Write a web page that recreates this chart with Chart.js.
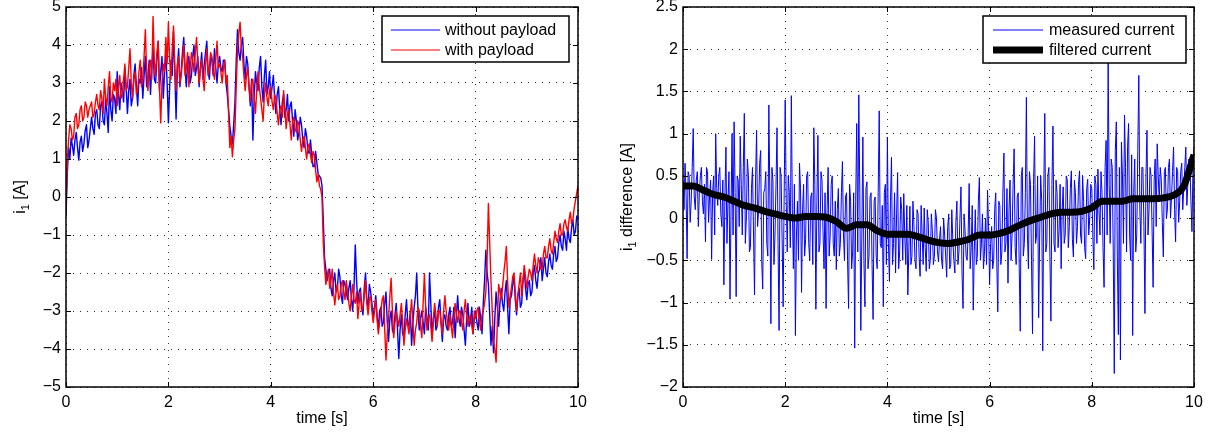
<!DOCTYPE html>
<html>
<head>
<meta charset="utf-8">
<script src="https://cdn.jsdelivr.net/npm/chart.js@4.4.1/dist/chart.umd.min.js"></script>
<style>
  html, body { margin: 0; padding: 0; background: #fff; }
  #wrap { position: relative; width: 1212px; height: 437px; overflow: hidden; }
  canvas { position: absolute; top: 0; }
  #left { left: 0; }
  #right { left: 606px; }
</style>
</head>
<body>
<div id="wrap">
  <canvas id="left" width="606" height="437"></canvas>
  <canvas id="right" width="606" height="437"></canvas>
</div>
<script>
// sample spacing of the recorded signals [s]
const dtMotor = 0.025;
const dtDiff = 0.02;
const dtFilt = 0.2;

// motor current i1 [A], 0..10 s, one row per 0.5 s
const withoutPayload = [
  -0.5, 0.6, 1.3, 1.0, 1.55, 1.35, 1.1, 1.5, 1.7, 1.3, 0.97, 1.45, 1.6, 1.2, 1.4, 1.75, 1.9, 1.3, 1.5, 1.8,
  2.1, 1.8, 1.65, 2.2, 2.3, 1.9, 1.8, 2.4, 2.5, 2.0, 1.9, 2.6, 2.2, 1.7, 2.9, 2.3, 2.0, 2.7, 2.6, 2.2,
  3.3, 2.7, 2.3, 3.0, 2.8, 2.5, 3.4, 2.9, 2.2, 2.8, 3.1, 2.4, 2.6, 3.2, 3.5, 2.9, 2.4, 3.1, 3.0, 3.4,
  2.6, 3.2, 3.7, 2.9, 3.2, 3.6, 2.7, 3.4, 3.9, 3.1, 3.0, 3.6, 4.1, 2.8, 3.3, 3.7, 2.6, 3.3, 3.8, 3.0,
  1.95, 2.9, 3.6, 3.2, 4.35, 3.3, 2.05, 3.4, 3.9, 2.9, 3.3, 3.8, 4.2, 3.4, 2.9, 3.5, 3.7, 3.0, 3.2, 3.7,
  4.0, 3.2, 3.4, 3.7, 2.9, 3.4, 3.8, 3.1, 3.5, 3.8, 4.1, 3.3, 3.1, 3.7, 3.6, 3.2, 3.9, 3.4, 3.0, 3.5,
  3.7, 3.4, 3.3, 3.6, 3.6, 3.0, 2.7, 2.3, 1.85, 1.6, 1.4, 1.9, 2.5, 3.6, 4.4, 3.8, 3.6, 4.0, 4.2, 3.5,
  3.1, 3.7, 3.5, 2.9, 2.4, 3.1, 1.5, 2.6, 3.3, 3.0, 2.8, 3.4, 3.7, 2.9, 2.5, 3.2, 3.6, 2.7, 2.9, 3.3,
  2.6, 2.9, 3.2, 2.6, 2.2, 2.7, 2.9, 2.3, 1.9, 2.5, 2.7, 2.1, 2.3, 2.7, 2.0, 2.4, 2.5, 2.0, 1.6, 2.3,
  2.0, 1.5, 1.7, 2.1, 1.9, 1.5, 1.3, 1.8, 1.6, 1.2, 1.15, 1.5, 1.1, 0.8, 0.8, 1.2, 0.9, 0.6, 0.55, 0.5,
  0.3, -0.6, -1.6, -1.9, -2.2, -2.0, -1.9, -2.4, -2.6, -2.2, -2.0, -2.5, -2.4, -1.9, -2.1, -2.6, -2.8, -2.2, -2.3, -2.5,
  -2.7, -2.4, -2.2, -2.7, -3.0, -2.4, -1.26, -2.2, -2.8, -2.5, -2.4, -2.9, -3.1, -2.4, -2.0, -2.7, -2.9, -2.3, -2.5, -2.8,
  -3.2, -2.9, -2.6, -3.1, -3.5, -3.0, -2.9, -3.4, -3.3, -2.8, -2.5, -3.3, -3.8, -3.2, -3.0, -3.5, -3.6, -3.1, -2.8, -3.5,
  -4.25, -3.5, -3.1, -3.6, -3.7, -3.1, -2.7, -3.3, -3.4, -3.0, -3.9, -3.3, -2.9, -2.6, -2.0, -3.0, -3.5, -3.2, -3.0, -3.3,
  -3.6, -2.9, -3.2, -3.5, -2.0, -2.8, -3.7, -3.2, -3.0, -3.5, -3.4, -2.9, -2.7, -3.3, -3.8, -3.2, -3.1, -3.4, -3.5, -3.1,
  -2.9, -3.4, -3.3, -2.9, -3.7, -3.1, -2.6, -3.2, -3.4, -2.9, -3.1, -3.5, -3.9, -3.2, -2.8, -3.4, -3.3, -2.9, -3.6, -3.2,
  -3.0, -3.3, -3.5, -2.9, -3.2, -3.6, -2.8, -2.2, -1.4, -2.0, -2.3, -3.1, -3.9, -3.4, -4.1, -3.2, -2.5, -2.9, -3.4, -2.8,
  -2.4, -2.8, -3.0, -2.5, -2.2, -2.9, -3.6, -2.7, -2.6, -2.3, -2.1, -2.7, -3.1, -2.6, -2.4, -2.9, -2.8, -2.2, -1.9, -2.4,
  -2.7, -2.3, -2.2, -2.6, -2.5, -2.0, -1.8, -2.2, -2.4, -2.0, -1.9, -1.6, -2.2, -1.9, -1.6, -2.0, -2.1, -1.7, -1.5, -1.8,
  -1.9, -1.5, -1.3, -1.7, -1.6, -1.2, -1.0, -1.3, -1.4, -0.9, -1.1, -1.4, -0.8, -1.1, -1.2, -0.8, -0.6, -1.0, -0.9, -0.5,
  -0.6
];
const withPayload = [
  -0.25, 0.9, 1.5, 1.9, 1.8, 1.5, 1.6, 2.1, 2.2, 1.8, 1.9, 2.3, 2.4, 2.0, 2.1, 2.5, 2.4, 2.1, 2.3, 2.4,
  2.5, 2.1, 2.2, 2.5, 2.7, 2.4, 2.3, 2.8, 2.6, 2.2, 3.1, 2.6, 2.4, 2.9, 3.3, 2.6, 2.5, 3.0, 2.8, 3.1,
  2.4, 2.9, 3.2, 2.6, 2.7, 3.1, 3.5, 2.8, 2.9, 3.4, 3.9, 3.0, 2.6, 3.1, 3.3, 2.7, 2.8, 3.3, 3.6, 2.9,
  3.1, 3.7, 4.4, 3.3, 2.8, 3.4, 3.6, 3.1, 4.75, 3.6, 3.2, 3.8, 4.1, 2.9, 1.95, 3.0, 3.5, 3.3, 4.2, 3.5,
  4.6, 3.6, 3.1, 3.9, 4.5, 3.4, 2.8, 3.5, 3.7, 3.0, 3.2, 3.6, 4.0, 3.2, 3.4, 3.8, 2.9, 3.4, 3.8, 3.6,
  3.3, 3.8, 4.2, 3.5, 3.0, 3.4, 3.6, 3.1, 2.8, 3.5, 3.9, 3.2, 3.4, 3.8, 3.7, 3.3, 3.1, 3.6, 4.1, 3.4,
  3.5, 3.3, 3.0, 3.4, 3.6, 3.0, 3.2, 2.2, 1.3, 1.6, 1.06, 1.5, 1.8, 2.9, 3.9, 4.3, 4.6, 3.9, 3.7, 3.2,
  2.8, 3.2, 3.4, 2.9, 2.5, 3.0, 3.1, 2.6, 2.2, 2.8, 3.3, 2.9, 2.6, 2.3, 2.0, 2.7, 3.0, 2.6, 2.4, 2.8,
  2.9, 2.5, 2.3, 2.7, 2.6, 2.2, 1.9, 2.3, 2.4, 2.1, 2.8, 2.3, 1.8, 2.2, 2.3, 1.9, 1.5, 2.0, 2.1, 1.8,
  1.7, 2.0, 1.9, 1.5, 1.2, 1.5, 1.6, 1.3, 1.0, 1.3, 1.4, 1.1, 0.9, 1.2, 1.1, 0.7, 0.4, 0.6, 0.3, 0.2,
  0.0, -1.2, -1.83, -2.3, -2.1, -1.9, -2.4, -2.2, -1.9, -2.5, -2.84, -2.5, -2.3, -2.7, -2.6, -2.3, -2.2, -2.5, -2.7, -2.2,
  -2.5, -2.8, -3.0, -2.6, -2.3, -2.7, -2.8, -2.5, -3.2, -2.8, -2.5, -3.0, -2.9, -2.6, -2.2, -2.8, -3.1, -2.7, -2.6, -3.0,
  -3.3, -3.0, -2.7, -3.2, -3.6, -3.3, -3.0, -2.7, -2.6, -3.5, -4.29, -3.6, -3.2, -2.6, -2.14, -3.0, -3.7, -3.3, -3.0, -3.2,
  -3.4, -3.1, -2.8, -3.3, -3.9, -3.5, -3.2, -3.4, -3.6, -3.1, -2.7, -3.3, -3.9, -3.5, -3.3, -2.9, -3.0, -3.4, -3.7, -2.8,
  -2.02, -2.9, -3.5, -3.2, -3.1, -3.4, -3.8, -3.2, -2.8, -3.1, -3.4, -3.0, -3.0, -3.3, -3.6, -3.0, -2.6, -3.0, -3.3, -3.5,
  -3.1, -3.4, -3.7, -3.2, -2.8, -3.1, -3.3, -3.0, -3.0, -3.3, -3.5, -3.0, -2.7, -3.1, -3.4, -3.2, -3.1, -3.4, -3.6, -3.0,
  -3.2, -3.0, -2.9, -3.3, -3.5, -3.1, -3.0, -2.8, -2.5, -1.6, -0.17, -1.2, -2.2, -3.0, -3.8, -4.0, -4.35, -3.3, -2.3, -2.5,
  -2.7, -2.4, -2.0, -1.7, -1.3, -2.2, -2.9, -2.6, -2.4, -2.1, -2.0, -2.5, -3.0, -2.6, -2.3, -2.0, -2.6, -2.2, -1.8, -2.1,
  -2.4, -2.1, -1.9, -2.0, -2.2, -1.8, -1.5, -1.8, -2.0, -1.6, -1.7, -1.9, -1.9, -1.5, -1.3, -1.6, -1.6, -1.3, -1.1, -1.4,
  -1.5, -1.2, -0.9, -1.1, -1.2, -0.9, -0.7, -1.0, -1.0, -0.7, -0.6, -0.8, -0.9, -0.6, -0.4, -0.7, -0.6, -0.3, -0.1, 0.1,
  0.3
];

// difference of i1 between the two runs [A], one row per second
const measuredDiff = [
  0.45, 0.1, 0.65, 0.3, -0.48, 0.55, 0.5, -0.05, 0.2, 0.6, 1.06, 0.25, 0.1, 0.45, 0.55, -0.1, 0.3, 0.5, 0.6, 0.2, 0.05, 0.4, -0.28, 0.6, 0.55,
  -0.05, 0.25, 0.45, -0.49, 0.3, 0.5, -0.2, 1.0, 0.35, 0.15, 0.5, 0.6, 0.05, -0.1, 0.45, -0.79, 0.25, 0.84, -0.3, 0.2, 0.55, -0.96, 0.1, 1.0, -0.2,
  1.14, 0.3, -0.93, 0.5, 0.45, -0.1, 0.97, 0.4, -0.2, 0.6, 1.24, -0.3, 0.0, 0.7, 0.5, -0.4, -0.35, 0.35, 0.6, -0.2, -0.91, 0.45, 1.04, -0.1, 0.1,
  0.65, 0.8, -0.5, -0.84, 0.3, 0.35, 0.55, -0.3, -0.45, 1.34, 0.25, -1.25, 0.6, 0.45, -0.55, -0.2, 0.4, 1.07, -0.3, -1.33, 0.6, 0.5, -0.25, -1.05, 0.3,
  1.4, 0.2, -0.4, 0.5, 0.3, -0.35, 1.45, 0.1, -0.6, 0.4, -1.39, -0.2, 0.2, -0.5, 0.65, 0.35, -0.88, 0.1, 0.4, -0.45, -0.25, 0.5, 0.55, -0.3, -0.5,
  0.25, 0.3, -0.55, 1.07, 0.4, -1.08, 0.2, 0.98, -0.4, -0.3, 0.55, 0.45, -0.15, -0.6, 0.3, -1.07, 0.1, 0.6, -0.45, -0.2, 0.4, 0.5, -0.3, -0.45, 0.2,
  -0.61, 0.1, 0.35, -0.45, -0.3, 0.3, 0.67, -0.2, -0.5, 0.25, 0.3, -0.5, -1.07, 0.4, 0.2, -0.6, -0.4, 0.3, -1.54, 0.2, 1.12, -0.4, 1.46, 0.3, -1.33,
  -0.2, 0.96, -0.5, -1.05, 0.35, 0.43, -0.6, -0.45, 0.25, 0.3, -0.55, -1.2, 0.2, 0.25, -0.45, -0.6, 0.3, 1.27, -0.3, -0.35, 0.15, -1.05, 0.3, 0.4, -0.55,
  0.96, -0.3, -0.75, 0.2, 0.72, -0.55, -0.3, 0.3, -0.65, 0.05, 0.54, -0.6, -0.4, 0.25, 0.1, -0.5, 0.29, -0.2, -0.55, 0.15, -0.91, -0.35, 0.14, -0.55, -0.45,
  0.2, -0.1, -0.5, -0.6, 0.1, 0.05, -0.45, -0.69, 0.15, -0.2, -0.55, 0.12, -0.35, -0.63, 0.1, -0.05, -0.6, -0.5, 0.05, -0.15, -0.55, -0.45, 0.1, 0.0, -0.4,
  -0.52, -0.25, -0.1, -0.5, -0.6, 0.0, -0.2, -0.45, -0.7, -0.1, 0.05, -0.6, -0.55, 0.1, -0.25, -0.5, -0.65, -0.05, 0.2, -0.55, -0.4, 0.0, 0.37, -0.65, -1.07,
  0.05, -0.15, -0.45, -0.5, -0.2, 0.41, -0.6, -0.35, 0.15, -1.09, -0.4, 0.1, -0.55, -0.45, 0.2, 0.48, -0.5, -0.3, 0.05, -0.6, -0.4, 0.0, -0.55, 0.33, -0.1,
  -0.79, -0.3, -0.1, -0.6, -0.5, 0.1, 0.3, -0.5, -1.11, 0.2, 0.15, -0.55, -0.4, 0.3, 0.77, -0.4, -0.3, 0.35, -0.77, 0.1, 0.45, -0.5, -0.2, 0.4, 0.82,
  -0.35, -0.55, 0.25, 0.3, -0.6, -1.34, 0.5, 0.6, -0.45, -0.3, 0.3, 1.43, -0.2, -0.6, 0.55, 0.4, -0.5, -1.37, 0.4, 0.97, -0.3, -0.2, 0.5, -1.18, -0.2,
  0.5, 0.2, -1.57, 0.35, 1.24, -0.4, -0.3, 0.5, 0.6, -0.45, -1.22, 0.4, 1.09, -0.3, -0.4, 0.45, 0.3, -0.35, -0.15, 0.4, -0.6, 0.1, 0.37, -0.3, -0.2,
  0.5, 0.45, -0.35, -0.1, 0.35, 0.56, -0.25, -0.46, 0.45, 0.3, -0.3, -0.1, 0.4, 0.56, -0.2, -0.3, 0.5, 0.2, -0.35, -0.48, 0.35, 0.46, -0.2, 0.0, 0.4,
  0.35, -0.2, -0.61, 0.5, 0.4, -0.3, 0.58, 0.1, -0.2, 0.55, 0.3, -0.35, -0.82, 0.6, 0.92, -0.2, 1.84, 0.4, -0.3, 0.7, 0.6, -0.4, -1.84, 0.8, 1.14,
  -0.5, -1.38, 0.6, -1.68, 0.9, 0.5, -0.3, 1.22, 0.6, -0.4, 0.85, 1.12, -0.2, -0.5, 0.75, -1.39, 0.3, 0.7, -0.4, -0.2, 0.8, 1.69, 0.1, -0.3, 0.6,
  0.6, -0.1, -1.13, 0.5, 1.04, -0.2, 0.1, 0.6, 0.5, -0.15, -0.82, 0.45, 0.7, -0.1, 0.88, 0.5, 0.2, 0.6, 0.45, -0.05, -0.46, 0.55, 0.6, 0.0, 0.1,
  0.6, 0.7, 0.0, 0.25, 0.55, 0.84, 0.1, -0.28, 0.6, 0.55, -0.05, 0.2, 0.55, 0.65, 0.1, 0.35, 0.6, 0.84, 0.15, 0.4, 0.7, 0.65, 0.2, -0.16, 0.6,
  0.84
];
const filteredDiff = [
  0.38, 0.38, 0.33, 0.28, 0.25, 0.2, 0.15, 0.12, 0.08, 0.05,
  0.02, 0.0, 0.02, 0.02, 0.01, -0.04, -0.12, -0.08, -0.08, -0.15,
  -0.19, -0.19, -0.19, -0.22, -0.26, -0.29, -0.3, -0.28, -0.25, -0.2,
  -0.2, -0.18, -0.14, -0.08, -0.03, 0.01, 0.05, 0.07, 0.07, 0.08,
  0.12, 0.2, 0.2, 0.2, 0.23, 0.23, 0.23, 0.24, 0.27, 0.38,
  0.75
];

const timeTicks = [0, 2, 4, 6, 8, 10];

function series(values, dt) {
  return values.map((v, i) => ({ x: +(i * dt).toFixed(3), y: v }));
}

function tickText(v) {
  return String(Math.round(v * 10) / 10).replace('-', '\u2212');
}

Chart.defaults.font.family = '"Liberation Sans", Arial, Helvetica, sans-serif';
Chart.defaults.font.size = 16;
Chart.defaults.color = '#000';

// MATLAB-like box, inner tick marks, axis labels and legend
const matlabAxes = {
  id: 'matlabAxes',
  afterDatasetsDraw(chart, args, opts) {
    const { ctx, chartArea: a, scales } = chart;
    const fam = Chart.defaults.font.family;
    ctx.save();

    ctx.strokeStyle = '#000';
    ctx.lineWidth = 1;
    ctx.beginPath();
    scales.x.ticks.forEach(t => {
      const px = Math.round(scales.x.getPixelForValue(t.value)) + 0.5;
      ctx.moveTo(px, a.bottom); ctx.lineTo(px, a.bottom - 5);
      ctx.moveTo(px, a.top); ctx.lineTo(px, a.top + 5);
    });
    scales.y.ticks.forEach(t => {
      const py = Math.round(scales.y.getPixelForValue(t.value)) + 0.5;
      ctx.moveTo(a.left, py); ctx.lineTo(a.left + 5, py);
      ctx.moveTo(a.right, py); ctx.lineTo(a.right - 5, py);
    });
    ctx.stroke();
    ctx.lineWidth = 1.5;
    ctx.strokeRect(a.left, a.top, a.right - a.left, a.bottom - a.top);

    // x label
    ctx.fillStyle = '#000';
    ctx.font = '16px ' + fam;
    ctx.textAlign = 'center';
    ctx.textBaseline = 'middle';
    ctx.fillText('time [s]', (a.left + a.right) / 2, 419);

    // y label with subscript, rotated
    const parts = opts.yTitle;
    ctx.save();
    ctx.translate(opts.yTitleX, (a.top + a.bottom) / 2);
    ctx.rotate(-Math.PI / 2);
    ctx.textAlign = 'left';
    ctx.textBaseline = 'middle';
    let total = 0;
    parts.forEach(p => {
      ctx.font = (p.sub ? '11px ' : '16px ') + fam;
      p.w = ctx.measureText(p.t).width;
      total += p.w;
    });
    let cx = -total / 2;
    parts.forEach(p => {
      ctx.font = (p.sub ? '11px ' : '16px ') + fam;
      ctx.fillText(p.t, cx, p.sub ? 5 : 0);
      cx += p.w;
    });
    ctx.restore();

    // legend
    const L = opts.legend;
    ctx.fillStyle = '#fff';
    ctx.fillRect(L.x, L.y, L.w, L.h);
    ctx.lineWidth = 1.5;
    ctx.strokeStyle = '#000';
    ctx.strokeRect(L.x, L.y, L.w, L.h);
    ctx.font = '16px ' + fam;
    ctx.textAlign = 'left';
    ctx.textBaseline = 'middle';
    const items = chart.data.datasets.slice().sort((p, q) => p.legendRank - q.legendRank);
    items.forEach((ds, i) => {
      const yy = L.y + L.rows[i];
      ctx.strokeStyle = ds.borderColor;
      ctx.lineWidth = ds.legendWidth;
      ctx.beginPath();
      ctx.moveTo(L.x + L.line[0], yy);
      ctx.lineTo(L.x + L.line[1], yy);
      ctx.stroke();
      ctx.fillStyle = '#000';
      ctx.fillText(ds.label, L.x + L.textX, yy + 1);
    });

    ctx.restore();
  }
};

function panel(id, area, yRange, datasets, extras) {
  return new Chart(document.getElementById(id), {
    type: 'line',
    data: { datasets },
    options: {
      responsive: false,
      animation: false,
      devicePixelRatio: 1,
      events: [],
      layout: { padding: { top: area.top, right: 606 - area.right, left: 0, bottom: 0 } },
      elements: { point: { radius: 0 }, line: { tension: 0, borderJoinStyle: 'round' } },
      plugins: {
        legend: { display: false },
        tooltip: { enabled: false },
        matlabAxes: extras
      },
      scales: {
        x: {
          type: 'linear', min: 0, max: 10,
          afterBuildTicks: s => { s.ticks = timeTicks.map(v => ({ value: v })); },
          ticks: { padding: 6, maxRotation: 0, callback: v => tickText(v) },
          grid: { drawTicks: false, color: '#333', lineWidth: 1 },
          border: { display: false, dash: [1, 6] },
          afterFit: s => { s.height = 437 - area.bottom; s.paddingLeft = 0; s.paddingRight = 0; }
        },
        y: {
          min: yRange[0], max: yRange[1],
          afterBuildTicks: s => { s.ticks = yRange[2].map(v => ({ value: v })); },
          ticks: { padding: 5, callback: v => tickText(v) },
          grid: { drawTicks: false, color: '#333', lineWidth: 1 },
          border: { display: false, dash: [1, 6] },
          afterFit: s => { s.width = area.left; s.paddingTop = 0; s.paddingBottom = 0; }
        }
      }
    },
    plugins: [matlabAxes]
  });
}

panel('left', { left: 66, right: 578, top: 7, bottom: 387 },
  [-5, 5, [-5, -4, -3, -2, -1, 0, 1, 2, 3, 4, 5]],
  [
    { label: 'with payload', data: series(withPayload, dtMotor), borderColor: '#ff0000',
      borderWidth: 1.4, order: 0, legendRank: 1, legendWidth: 1 },
    { label: 'without payload', data: series(withoutPayload, dtMotor), borderColor: '#0000ff',
      borderWidth: 1.4, order: 1, legendRank: 0, legendWidth: 1 }
  ],
  {
    yTitle: [{ t: 'i' }, { t: '1', sub: true }, { t: ' [A]' }], yTitleX: 21,
    legend: { x: 382, y: 16, w: 187, h: 46, rows: [14, 34], line: [9, 58], textX: 63 }
  });

panel('right', { left: 77, right: 588, top: 7, bottom: 387 },
  [-2, 2.5, [-2, -1.5, -1, -0.5, 0, 0.5, 1, 1.5, 2, 2.5]],
  [
    { label: 'filtered current', data: series(filteredDiff, dtFilt), borderColor: '#000',
      borderWidth: 7, cubicInterpolationMode: 'monotone', order: 0, legendRank: 1, legendWidth: 7 },
    { label: 'measured current', data: series(measuredDiff, dtDiff), borderColor: '#0000ff',
      borderWidth: 1, order: 1, legendRank: 0, legendWidth: 1 }
  ],
  {
    yTitle: [{ t: 'i' }, { t: '1', sub: true }, { t: ' difference [A]' }], yTitleX: 22,
    legend: { x: 377, y: 16, w: 203, h: 47, rows: [14, 34], line: [10, 60], textX: 66 }
  });
</script>
</body>
</html>
